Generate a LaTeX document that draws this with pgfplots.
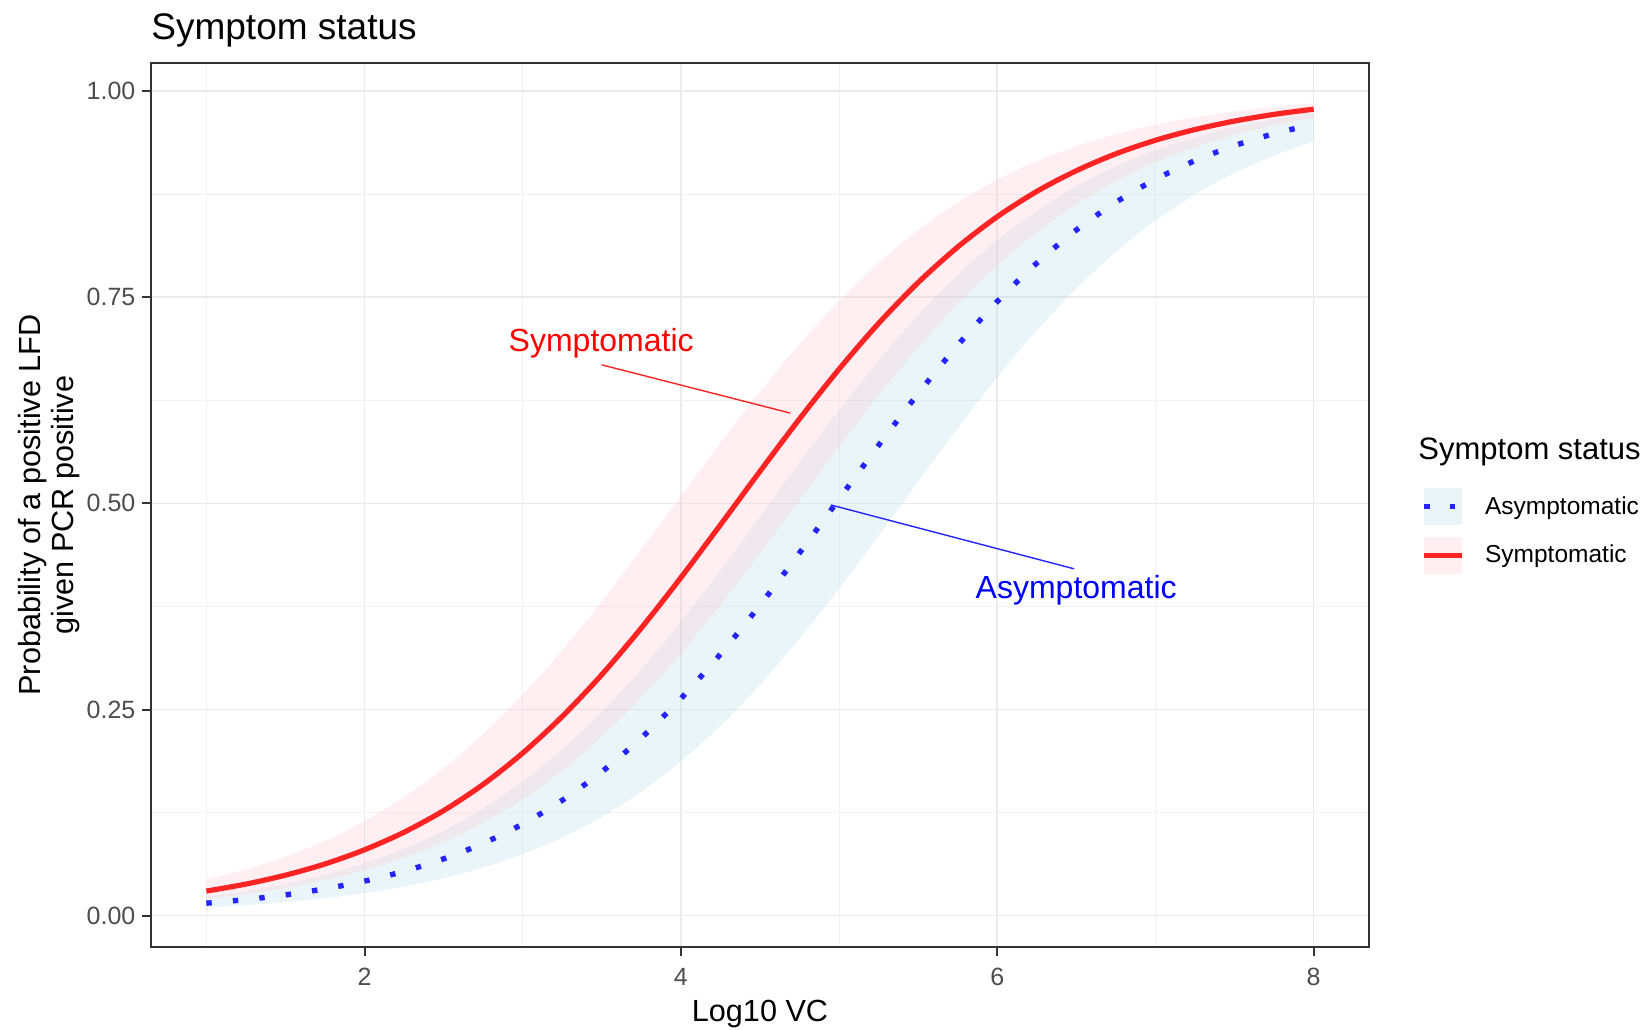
\documentclass[border=0pt]{standalone}
\usepackage{pgfplots}
\pgfplotsset{compat=1.18}
\usepackage{pgfplotstable}
\usepgfplotslibrary{fillbetween}
\usepackage{fontspec}
\setmainfont{Liberation Sans}
\definecolor{redline}{HTML}{FF2424}
\definecolor{blueline}{HTML}{2424FF}
\definecolor{pinkfill}{HTML}{FFC0CB}
\definecolor{bluefill}{HTML}{ADD8E6}
\definecolor{gridmaj}{HTML}{EBEBEB}
\definecolor{gridmin}{HTML}{F2F2F2}
\definecolor{framec}{HTML}{333333}
\definecolor{ticktext}{HTML}{4D4D4D}

\pgfplotstableread{
x sc su sl ac au al
1.00 0.0298 0.0438 0.0202 0.0151 0.0232 0.0098
1.25 0.0383 0.0560 0.0260 0.0195 0.0300 0.0127
1.50 0.0491 0.0715 0.0334 0.0252 0.0386 0.0164
1.75 0.0627 0.0908 0.0429 0.0326 0.0497 0.0212
2.00 0.0799 0.1147 0.0550 0.0419 0.0636 0.0274
2.25 0.1012 0.1438 0.0702 0.0538 0.0812 0.0353
2.50 0.1274 0.1789 0.0892 0.0689 0.1030 0.0455
2.75 0.1592 0.2203 0.1127 0.0877 0.1299 0.0583
3.00 0.1972 0.2682 0.1414 0.1112 0.1626 0.0745
3.25 0.2416 0.3221 0.1760 0.1399 0.2016 0.0948
3.50 0.2923 0.3813 0.2169 0.1745 0.2471 0.1198
3.75 0.3489 0.4442 0.2642 0.2156 0.2991 0.1504
4.00 0.4100 0.5090 0.3178 0.2633 0.3569 0.1871
4.25 0.4740 0.5735 0.3766 0.3172 0.4191 0.2303
4.50 0.5389 0.6355 0.4393 0.3766 0.4840 0.2801
4.75 0.6025 0.6934 0.5040 0.4399 0.5495 0.3359
5.00 0.6628 0.7457 0.5685 0.5053 0.6133 0.3968
5.25 0.7183 0.7918 0.6309 0.5704 0.6734 0.4610
5.50 0.7678 0.8315 0.6891 0.6332 0.7283 0.5265
5.75 0.8109 0.8648 0.7419 0.6918 0.7771 0.5911
6.00 0.8476 0.8925 0.7885 0.7448 0.8192 0.6527
6.25 0.8783 0.9150 0.8286 0.7914 0.8549 0.7097
6.50 0.9034 0.9331 0.8624 0.8315 0.8846 0.7606
6.75 0.9239 0.9477 0.8906 0.8651 0.9088 0.8051
7.00 0.9403 0.9592 0.9135 0.8929 0.9283 0.8430
7.25 0.9533 0.9682 0.9319 0.9156 0.9439 0.8747
7.50 0.9636 0.9753 0.9466 0.9338 0.9563 0.9008
7.75 0.9717 0.9809 0.9584 0.9483 0.9660 0.9218
8.00 0.9780 0.9851 0.9675 0.9597 0.9736 0.9388
}\curves

\begin{document}
\begin{tikzpicture}
\begin{axis}[
  name=ax,
  at={(0,0)}, anchor=south west,
  scale only axis, width=609pt, height=442pt,
  xmin=0.65, xmax=8.35, ymin=-0.038, ymax=1.034,
  xtick={2,4,6,8}, xticklabels={2,4,6,8},
  ytick={0,0.25,0.5,0.75,1}, yticklabels={0.00,0.25,0.50,0.75,1.00},
  minor xtick={1,3,5,7}, minor ytick={0.125,0.375,0.625,0.875},
  tick pos=left, tick align=outside,
  major tick length=4.3pt, minor tick length=0pt,
  every tick/.style={framec, line width=1pt},
  grid=both,
  major grid style={gridmaj, line width=0.8pt},
  minor grid style={gridmin, line width=0.45pt},
  axis line style={framec, line width=1pt},
  ticklabel style={font=\fontsize{12.5}{15}\selectfont, text=ticktext},
  xticklabel style={yshift=-2.6pt},
  clip=false,
  legend style={at={(axis description cs:1,0)}, anchor=north west,
    xshift=26.2pt, yshift=229.4pt, draw=none, fill=none,
    inner sep=0pt, outer sep=0pt, row sep=5.8pt, column sep=10.2pt,
    font=\fontsize{12.25}{14}\selectfont, nodes={inner sep=0pt}},
  legend cell align=left,
]
\addplot[name path=au, draw=none, smooth, forget plot] table[x=x,y=au]{\curves};
\addplot[name path=al, draw=none, smooth, forget plot] table[x=x,y=al]{\curves};
\addplot[name path=su, draw=none, smooth, forget plot] table[x=x,y=su]{\curves};
\addplot[name path=sl, draw=none, smooth, forget plot] table[x=x,y=sl]{\curves};
\addplot[bluefill, fill opacity=0.25, draw=none, forget plot] fill between[of=au and al];
\addplot[pinkfill, fill opacity=0.25, draw=none, forget plot] fill between[of=su and sl];

\addplot[blueline, line width=2.7pt, smooth, dash pattern=on 2.7pt off 10.6pt,
  legend image code/.code={
    \path[fill=bluefill, draw=none, fill opacity=0.25] (0pt,-9.25pt) rectangle (19pt,9.25pt);
    \draw[blueline, line width=2.7pt, dash pattern=on 2.7pt off 10.15pt] (0.1pt,0pt) -- (19pt,0pt);}
  ] table[x=x,y=ac]{\curves};
\addlegendentry{Asymptomatic}
\addplot[redline, line width=2.6pt, smooth,
  legend image code/.code={
    \path[fill=pinkfill, draw=none, fill opacity=0.25] (0pt,-9.25pt) rectangle (19pt,9.25pt);
    \draw[redline, line width=2.6pt, solid] (0pt,0pt) -- (19pt,0pt);}
  ] table[x=x,y=sc]{\curves};
\addlegendentry{Symptomatic}

\addplot[redline, line width=0.7pt, forget plot] coordinates {(3.499,0.668) (4.691,0.6095)};
\addplot[blueline, line width=0.7pt, forget plot] coordinates {(4.949,0.498) (6.486,0.4206)};
\node[anchor=base, inner sep=0pt, text=red, font=\fontsize{16}{19}\selectfont] at (axis cs:3.496,0.684) {Symptomatic};
\node[anchor=base, inner sep=0pt, text=blue, font=\fontsize{16}{19}\selectfont] at (axis cs:6.499,0.385) {Asymptomatic};
\end{axis}
\node[anchor=base west, inner sep=0pt, font=\fontsize{18.5}{22}\selectfont] at ([yshift=11.8pt]ax.north west) {Symptom status};
\node[anchor=base, inner sep=0pt, font=\fontsize{15.3}{18}\selectfont] at ([yshift=-37pt]ax.south) {Log10 VC};
\node[anchor=base, inner sep=0pt, rotate=90, font=\fontsize{15.3}{18}\selectfont] at ([xshift=-55.2pt]ax.west) {Probability of a positive LFD};
\node[anchor=base, inner sep=0pt, rotate=90, font=\fontsize{15.3}{18}\selectfont] at ([xshift=-38.5pt]ax.west) {given PCR positive};
\node[anchor=base west, inner sep=0pt, font=\fontsize{15.5}{18}\selectfont] at ([xshift=24.5pt,yshift=243.5pt]ax.south east) {Symptom status};
\pgfresetboundingbox
\path (-75.5pt,-41pt) rectangle (749pt,473.5pt);
\end{tikzpicture}
\end{document}
